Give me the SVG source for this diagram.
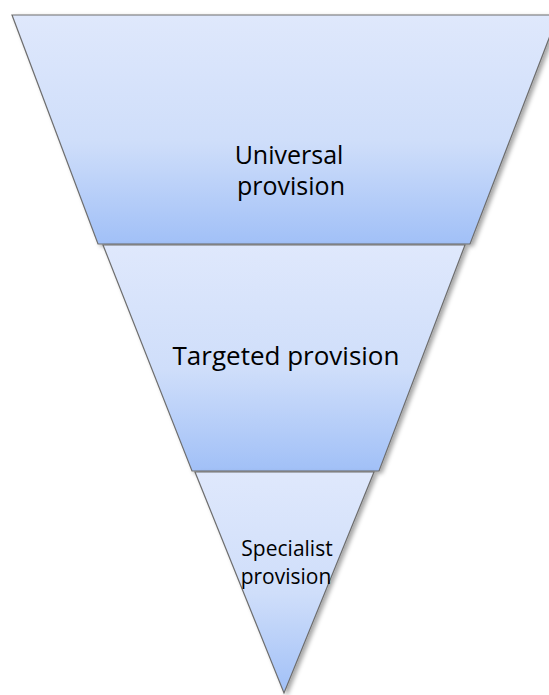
<svg xmlns="http://www.w3.org/2000/svg" width="549" height="695" viewBox="0 0 549 695">
<defs>
<linearGradient id="g1" x1="0" y1="0" x2="0" y2="1">
<stop offset="0" stop-color="#dfe8fc"/>
<stop offset="0.55" stop-color="#cfdefa"/>
<stop offset="1" stop-color="#a1c0f7"/>
</linearGradient>
<filter id="sh" x="-10%" y="-10%" width="120%" height="120%">
<feDropShadow dx="3" dy="2" stdDeviation="2" flood-color="#000" flood-opacity="0.35"/>
</filter>
<style>
.seg{fill:url(#g1);stroke:#6e6e6e;stroke-width:1.2;filter:url(#sh)}
.lbl{font-family:"Open Sans","Liberation Sans",sans-serif;fill:#000;text-anchor:middle}
</style>
</defs>
<rect width="549" height="695" fill="#fff"/>
<g id="universal">
<polygon class="seg" points="12,15 558,15 470,244 98,244"/>
<text class="lbl" x="289" y="164" font-size="25">Universal</text>
<text class="lbl" x="291" y="195" font-size="25">provision</text>
</g>
<g id="targeted">
<polygon class="seg" points="103,245 465,245 379,471 192,471"/>
<text class="lbl" x="286" y="365" font-size="26">Targeted provision</text>
</g>
<g id="specialist">
<polygon class="seg" points="195,472 374,472 284,693"/>
<text class="lbl" x="287" y="556" font-size="21">Specialist</text>
<text class="lbl" x="286" y="584" font-size="21">provision</text>
</g>
<g id="connectors"></g>
</svg>
